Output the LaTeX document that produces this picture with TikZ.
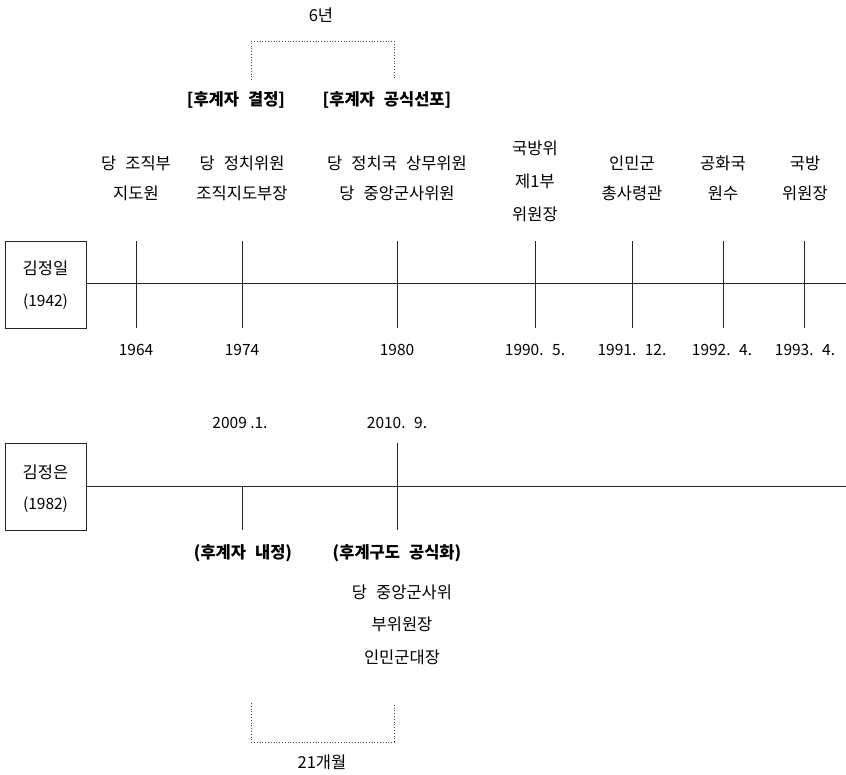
\documentclass[tikz,border=0pt]{standalone}
\usepackage{fontspec}
\setmainfont{Noto Sans CJK KR}
\newcommand\wgap{\hspace{0.55em}}
\begin{document}
\begin{tikzpicture}[x=1pt,y=-1pt,
  lbl/.style={inner sep=0pt,font=\fontsize{16.5}{18}\selectfont},
  nlbl/.style={inner sep=0pt,font=\fontsize{15.5}{17}\selectfont},
  blbl/.style={inner sep=0pt,font=\fontsize{16.5}{18}\selectfont\bfseries},
  axis/.style={line width=0.9pt,draw=black!85},
  tick/.style={line width=0.9pt,draw=black!85},
  bracket/.style={line width=0.8pt,dotted,draw=black!70},
  namebox/.style={draw=black!85,line width=1pt,minimum width=81pt,minimum height=87pt,inner sep=0pt}]
\useasboundingbox (0,0) rectangle (846,774);
% ---------- Kim Jong-il timeline ----------
\node[namebox] (boxA) at (45.5,284.5) {};
\node[lbl] (nA) at (45.5,268) {김정일};
\node[nlbl] (yA) at (45.5,302) {(1942)};
\coordinate (endA) at (846,283);
\draw[axis] (boxA.east |- endA) -- (endA);
\foreach \n/\x in {t1/136,t2/242,t3/397,t4/535,t5/632,t6/723,t7/804}{
  \coordinate (\n a) at (\x,241);
  \coordinate (\n b) at (\x,328);
  \draw[tick] (\n a) -- (\n b);
}
% years
\node[nlbl] (d1) at (136,350) {1964};
\node[nlbl] (d2) at (242,350) {1974};
\node[nlbl] (d3) at (397,350) {1980};
\node[nlbl] (d4) at (535,350) {1990.\wgap{}5.};
\node[nlbl] (d5) at (632,350) {1991.\wgap{}12.};
\node[nlbl] (d6) at (722,350) {1992.\wgap{}4.};
\node[nlbl] (d7) at (805,350) {1993.\wgap{}4.};
% posts
\node[lbl] (p1a) at (136,163) {당\wgap{}조직부};
\node[lbl] (p1b) at (136,193) {지도원};
\node[lbl] (p2a) at (242,163) {당\wgap{}정치위원};
\node[lbl] (p2b) at (242,193) {조직지도부장};
\node[lbl] (p3a) at (397,163) {당\wgap{}정치국\wgap{}상무위원};
\node[lbl] (p3b) at (397,193) {당\wgap{}중앙군사위원};
\node[lbl] (p4a) at (535,148) {국방위};
\node[lbl] (p4b) at (535,181) {제1부};
\node[lbl] (p4c) at (535,214) {위원장};
\node[lbl] (p5a) at (632,163) {인민군};
\node[lbl] (p5b) at (632,193) {총사령관};
\node[lbl] (p6a) at (723,163) {공화국};
\node[lbl] (p6b) at (723,193) {원수};
\node[lbl] (p7a) at (805,163) {국방};
\node[lbl] (p7b) at (805,193) {위원장};
% succession
\node[blbl] (s1) at (236,100) {[후계자\wgap{}결정]};
\node[blbl] (s2) at (387,100) {[후계자\wgap{}공식선포]};
\coordinate (b1a) at (251,80);
\coordinate (b1b) at (251,41);
\coordinate (b1c) at (394,41);
\coordinate (b1d) at (394,80);
\draw[bracket] (b1a) -- (b1b) -- (b1c) -- (b1d);
\node[lbl] (six) at (321,15) {6년};
% ---------- Kim Jong-un timeline ----------
\node[namebox] (boxB) at (45.5,487) {};
\node[lbl] (nB) at (45.5,472) {김정은};
\node[nlbl] (yB) at (45.5,505) {(1982)};
\coordinate (endB) at (846,486);
\draw[axis] (boxB.east |- endB) -- (endB);
\coordinate (u1a) at (242,486);
\coordinate (u1b) at (242,530);
\coordinate (u2a) at (397,443);
\coordinate (u2b) at (397,530);
\draw[tick] (u1a) -- (u1b);
\draw[tick] (u2a) -- (u2b);
\node[nlbl] (e1) at (240,423) {2009 .1.};
\node[nlbl] (e2) at (397,423) {2010.\wgap{}9.};
\node[blbl] (k1) at (243,553) {(후계자\wgap{}내정)};
\node[blbl] (k2) at (397,553) {(후계구도\wgap{}공식화)};
\node[lbl] (q1) at (402,592) {당\wgap{}중앙군사위};
\node[lbl] (q2) at (402,624) {부위원장};
\node[lbl] (q3) at (402,657) {인민군대장};
\coordinate (b2a) at (251,703);
\coordinate (b2b) at (251,742);
\coordinate (b2c) at (394,742);
\coordinate (b2d) at (394,703);
\draw[bracket] (b2a) -- (b2b) -- (b2c) -- (b2d);
\node[lbl] (tw) at (322,762) {21개월};
\end{tikzpicture}
\end{document}
